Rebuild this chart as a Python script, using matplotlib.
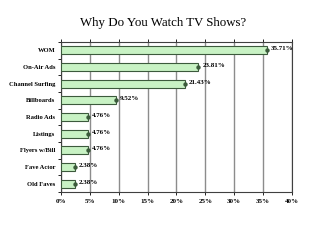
import matplotlib.pyplot as plt
import numpy as np

# data
reasons = ["WOM", "On-Air Ads", "Channel Surfing", "Billboards", "Radio Ads",
           "Listings", "Flyers w/Bill", "Fave Actor", "Old Faves"]
shares = [35.71, 23.81, 21.43, 9.52, 4.76, 4.76, 4.76, 2.38, 2.38]
xticks = [0, 5, 10, 15, 20, 25, 30, 35, 40]

plt.rcParams["font.family"] = ["Liberation Serif", "DejaVu Serif"]

fig = plt.figure(figsize=(3.2, 2.4), dpi=100)
fig.patch.set_facecolor("white")
ax = fig.add_axes([0.19, 0.2, 0.7225, 0.625])

y = np.arange(len(reasons))
ax.barh(y, shares, height=0.48, color="#c8f2c4", edgecolor="#3c5a3c",
        linewidth=0.8, zorder=3)
# dark end caps like the cylinder bars
ax.scatter(shares, y, marker="o", s=10, color="#3a5a3a", zorder=4,
           linewidths=0)

for yi, v in zip(y, shares):
    ax.text(v + 0.7, yi - 0.1, f"{v:.2f}%", fontsize=5, fontweight="bold",
            va="center", ha="left", color="black", zorder=5)

ax.set_xlim(0, 40)
ax.set_ylim(len(reasons) - 0.5, -0.5)
ax.set_xticks(xticks)
ax.set_xticklabels([f"{t}%" for t in xticks], fontsize=5, fontweight="bold")
ax.set_yticks(y)
ax.set_yticklabels(reasons, fontsize=4.7, fontweight="bold")
ax.set_yticks(np.arange(len(reasons) + 1) - 0.5, minor=True)
ax.tick_params(axis="y", which="major", length=0, pad=4)
ax.tick_params(axis="y", which="minor", length=2, width=0.6)
ax.tick_params(axis="x", length=2, width=0.6, pad=3, top=True)

ax.grid(axis="x", color="#8c8c8c", linewidth=1.0, zorder=0)
ax.set_axisbelow(True)
for s in ax.spines.values():
    s.set_color("#404040")
    s.set_linewidth(0.8)

fig.text(0.51, 0.905, "Why Do You Watch TV Shows?", fontsize=9.3,
         ha="center", va="center", color="black")

fig.savefig("out.png", dpi=100)
